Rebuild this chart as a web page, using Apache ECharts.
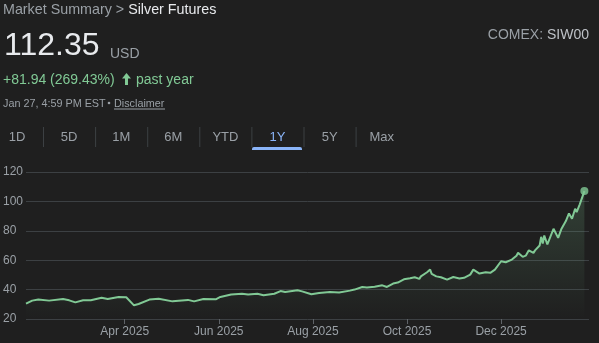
<!DOCTYPE html>
<html>
<head>
<meta charset="utf-8">
<script src="https://cdn.jsdelivr.net/npm/echarts@6/dist/echarts.min.js"></script>
<style>
html,body{margin:0;padding:0;background:#1f1f1f;}
#chart{width:599px;height:343px;}
</style>
</head>
<body>
<div id="chart"></div>
<script>
const dates = ['2025-01-27','2025-01-31','2025-02-04','2025-02-11','2025-02-20','2025-02-24','2025-02-28','2025-03-05','2025-03-10','2025-03-17','2025-03-21','2025-03-28','2025-04-02','2025-04-03','2025-04-07','2025-04-10','2025-04-17','2025-04-23','2025-05-02','2025-05-12','2025-05-16','2025-05-22','2025-05-30','2025-06-02','2025-06-09','2025-06-16','2025-06-20','2025-06-26','2025-06-30','2025-07-07','2025-07-11','2025-07-14','2025-07-22','2025-07-25','2025-07-31','2025-08-05','2025-08-12','2025-08-18','2025-08-25','2025-08-28','2025-09-02','2025-09-05','2025-09-10','2025-09-15','2025-09-18','2025-09-22','2025-09-25','2025-09-29','2025-10-03','2025-10-06','2025-10-09','2025-10-10','2025-10-14','2025-10-16','2025-10-17','2025-10-20','2025-10-23','2025-10-27','2025-10-31','2025-11-04','2025-11-07','2025-11-11','2025-11-13','2025-11-17','2025-11-21','2025-11-24','2025-11-27','2025-12-01','2025-12-04','2025-12-05','2025-12-08','2025-12-11','2025-12-12','2025-12-15','2025-12-17','2025-12-19','2025-12-22','2025-12-23','2025-12-26','2025-12-27','2025-12-28','2025-12-29','2025-12-31','2026-01-01','2026-01-04','2026-01-07','2026-01-09','2026-01-12','2026-01-14','2026-01-15','2026-01-16','2026-01-18','2026-01-19','2026-01-21','2026-01-24'];
const prices = [30.4,32.5,33.2,32.5,33.6,32.7,31.3,32.7,32.7,34.5,33.6,35.0,34.8,34.6,29.3,30.2,33.2,33.8,32.0,33.0,32.0,33.6,33.4,35.0,36.6,37.2,36.6,37.2,36.1,37.2,39.0,38.4,39.5,38.8,36.8,37.7,38.4,38.1,39.3,40.0,41.8,41.5,42.0,42.9,41.8,44.1,44.8,47.0,47.7,48.4,47.3,49.0,51.8,53.6,50.7,49.0,48.4,46.8,48.6,47.5,48.0,50.2,53.6,50.9,51.8,51.4,53.6,59.3,58.6,59.3,60.4,63.1,65.0,62.3,63.1,66.7,65.0,66.7,70.0,75.9,71.3,76.8,70.7,71.8,81.4,75.2,81.0,86.6,91.8,92.7,88.2,95.0,92.7,98.0,107.0];
const tickDates = ['2025-04-01','2025-06-01','2025-08-01','2025-10-01','2025-12-01'];
const monthNames = ['Jan','Feb','Mar','Apr','May','Jun','Jul','Aug','Sep','Oct','Nov','Dec'];
const rangeStart = '2025-01-27';
const rangeEnd = '2026-01-27';
const tabs = ['1D','5D','1M','6M','YTD','1Y','5Y','Max'];
const selectedTab = '1Y';
const breadcrumb = ['Market Summary', ' > ', 'Silver Futures'];
const priceText = '112.35';
const currency = 'USD';
const changeText = '+81.94 (269.43%)';
const periodText = 'past year';
const timeText = 'Jan 27, 4:59 PM EST';
const disclaimer = 'Disclaimer';
const exchange = 'COMEX:';
const symbol = 'SIW00';

function parseDate(s){const p=s.split('-').map(Number);return new Date(p[0],p[1]-1,p[2]).getTime();}
const lineData = dates.map((d,i)=>[parseDate(d),prices[i]]);
const tickVals = tickDates.map(parseDate);
const last = lineData[lineData.length-1];

const FONT = '"Liberation Sans", Arial, sans-serif';
const GRAY = '#9aa0a6';
const GREEN = '#81c995';

const graphics = [];
graphics.push({type:'text',left:3,top:3,style:{
  text:'{a|'+breadcrumb[0]+'}{a|'+breadcrumb[1]+'}{b|'+breadcrumb[2]+'}',
  rich:{a:{fill:GRAY,fontSize:14.3,fontFamily:FONT},b:{fill:'#e8eaed',fontSize:14.3,fontFamily:FONT}}
}});
graphics.push({type:'text',left:4,top:30,style:{text:priceText,fill:'#e8eaed',fontSize:32,fontFamily:FONT}});
graphics.push({type:'text',left:110,top:47,style:{text:currency,fill:GRAY,fontSize:14,fontFamily:FONT}});
graphics.push({type:'text',left:3,top:73,style:{text:changeText,fill:GREEN,fontSize:14,fontFamily:FONT}});
graphics.push({type:'polygon',shape:{points:[[126.5,73],[131,78.5],[128,78.5],[128,85],[125,85],[125,78.5],[122,78.5]]},style:{fill:GREEN}});
graphics.push({type:'text',left:136,top:73,style:{text:periodText,fill:GREEN,fontSize:14,fontFamily:FONT}});
graphics.push({type:'text',left:3,top:99,style:{text:timeText,fill:GRAY,fontSize:10.8,fontFamily:FONT}});
graphics.push({type:'circle',shape:{cx:109,cy:103,r:1.3},style:{fill:GRAY}});
graphics.push({type:'text',left:114,top:99,style:{text:disclaimer,fill:GRAY,fontSize:10.8,fontFamily:FONT}});
graphics.push({type:'rect',shape:{x:114,y:108.5,width:51,height:1},style:{fill:GRAY}});
graphics.push({type:'text',right:10,top:28,style:{
  text:'{a|'+exchange+' }{b|'+symbol+'}',
  rich:{a:{fill:GRAY,fontSize:14,fontFamily:FONT},b:{fill:'#bdc1c6',fontSize:14,fontFamily:FONT}}
}});
tabs.forEach((t,i)=>{
  const cx = 17 + i*52.1;
  const sel = t===selectedTab;
  graphics.push({type:'text',x:cx,y:137,style:{text:t,fill:sel?'#8ab4f8':GRAY,fontSize:13,fontFamily:FONT,align:'center',verticalAlign:'middle'}});
  if(i<tabs.length-1){
    graphics.push({type:'line',shape:{x1:cx+26.5,y1:127,x2:cx+26.5,y2:147},style:{stroke:'#3c4043',lineWidth:1}});
  }
  if(sel){
    graphics.push({type:'rect',shape:{x:cx-25.5,y:147,width:50,height:3,r:[2,2,0,0]},style:{fill:'#8ab4f8'}});
  }
});

const chart = echarts.init(document.getElementById('chart'),null,{renderer:'canvas'});
chart.setOption({
  backgroundColor:'#1f1f1f',
  animation:false,
  grid:{left:26,right:10,top:172,bottom:24},
  xAxis:{
    type:'value',
    min:parseDate(rangeStart),
    max:parseDate(rangeEnd),
    axisLine:{show:false},
    splitLine:{show:false},
    axisTick:{show:true,customValues:tickVals,length:5,lineStyle:{color:'#5f6368'}},
    axisLabel:{customValues:tickVals,color:GRAY,fontSize:12,fontFamily:FONT,margin:7,
      formatter:v=>{const d=new Date(v);return monthNames[d.getMonth()]+' '+d.getFullYear();}}
  },
  yAxis:{
    type:'value',min:20,max:120,interval:20,
    axisLine:{show:false},axisTick:{show:false},
    axisLabel:{color:GRAY,fontSize:12,fontFamily:FONT,align:'left',margin:23},
    splitLine:{lineStyle:{color:'#3c4043',width:1}}
  },
  series:[
    {type:'line',data:lineData,showSymbol:false,symbol:'none',
      lineStyle:{color:GREEN,width:2},
      areaStyle:{origin:'start',color:new echarts.graphic.LinearGradient(0,0,0,1,[{offset:0,color:'rgba(129,201,149,0.28)'},{offset:1,color:'rgba(129,201,149,0)'}])}
    },
    {type:'scatter',data:[last],symbolSize:8,itemStyle:{color:GREEN}}
  ],
  graphic:graphics
});
</script>
</body>
</html>
